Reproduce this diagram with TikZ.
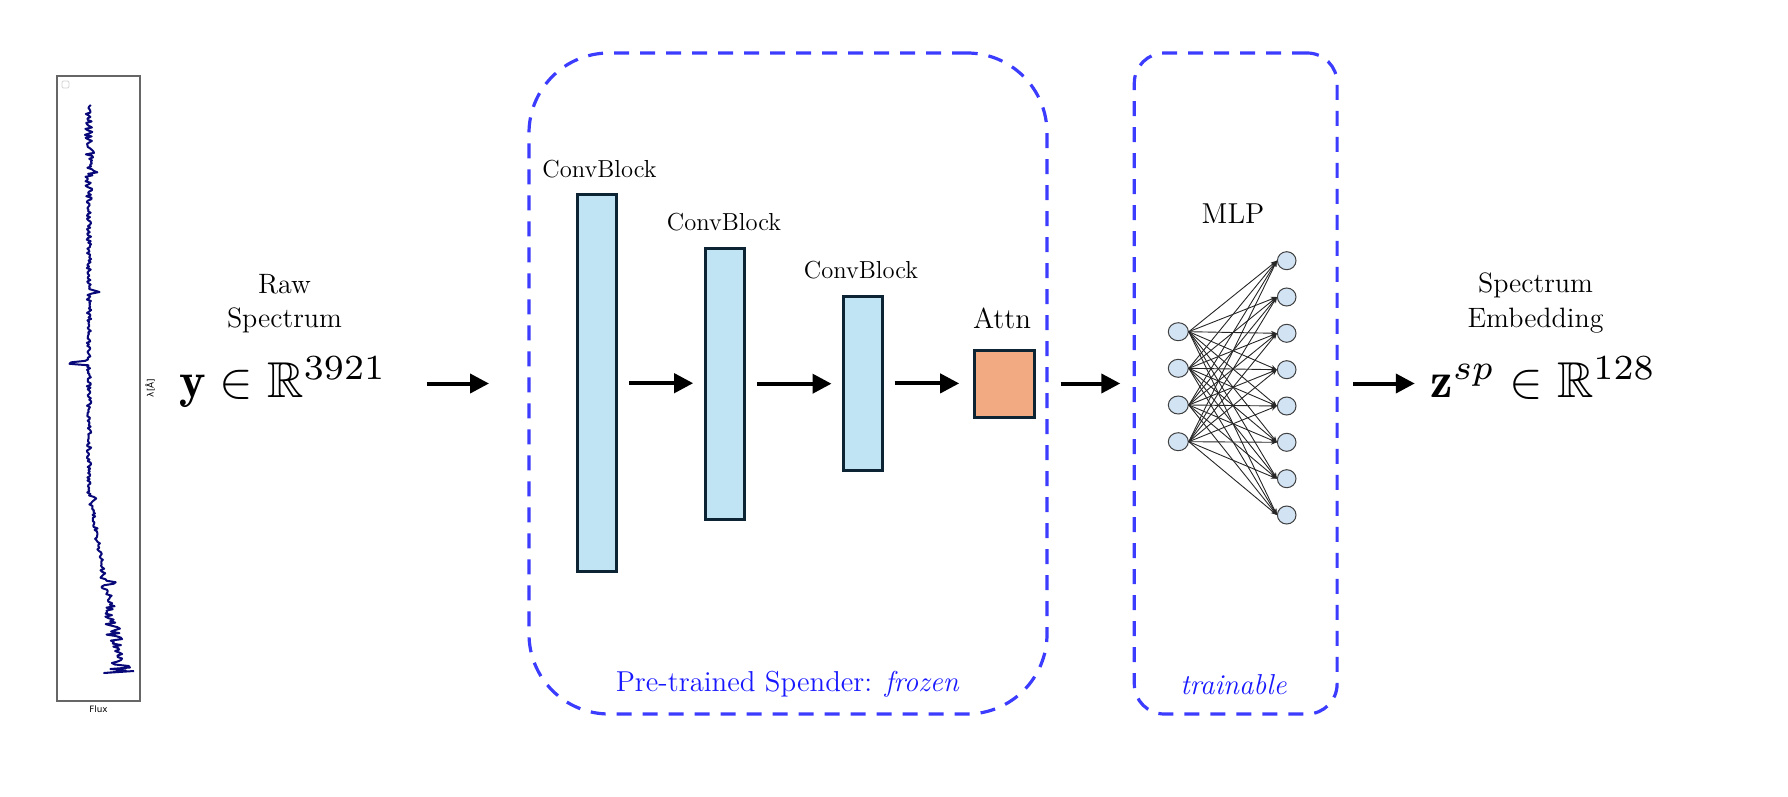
\documentclass[tikz,border=0pt]{standalone}
\usepackage{amsmath,amssymb}
\usepackage{graphicx}
\usepackage{fontspec}
\usetikzlibrary{arrows.meta,calc,shapes.geometric}
\newfontfamily\plotfont{DejaVu Sans}
\definecolor{cbfill}{RGB}{193,228,244}
\definecolor{cbdraw}{RGB}{12,36,52}
\definecolor{attnfill}{RGB}{241,170,130}
\definecolor{dashblue}{RGB}{60,60,255}
\definecolor{labblue}{RGB}{25,25,255}
\definecolor{specblue}{RGB}{8,8,120}
\definecolor{mlpfill}{RGB}{210,227,244}
\begin{document}
\begin{tikzpicture}[x=0.5pt,y=-0.5pt,
  cb/.style={draw=cbdraw, line width=1.5pt, fill=cbfill, inner sep=0pt, outer sep=0pt},
  attnbox/.style={cb, fill=attnfill},
  dashbox/.style={draw=dashblue, line width=1.6pt, dash pattern=on 7.5pt off 5.5pt, inner sep=0pt, outer sep=0pt},
  bigarr/.style={line width=2pt, -{Triangle[length=9.5pt,width=9.5pt]}},
  neuron/.style={ellipse, draw=black!75, line width=0.5pt, fill=mlpfill, inner sep=0pt, minimum height=9pt},
  mlpedge/.style={draw=black!85, line width=0.45pt, -{Stealth[length=3pt,width=2.4pt]}},
  txt/.style={inner sep=0pt, outer sep=0pt},
  cblabel/.style={txt, anchor=base, font=\fontsize{12.3}{14}\selectfont},
  biglabel/.style={txt, anchor=base, font=\fontsize{14.4}{17}\selectfont},
  mathlabel/.style={txt, anchor=base, font=\fontsize{10}{12}\selectfont},
  bluelabel/.style={txt, anchor=base, text=labblue, font=\fontsize{14.4}{17}\selectfont},
  plotlabel/.style={txt, font=\plotfont\fontsize{4.4}{5}\selectfont}
]
\useasboundingbox (0,0) rectangle (1788,797);

% ---- spectrum plot ----
\node[draw=black!60, line width=0.6pt, minimum width=41.5pt, minimum height=312.5pt, inner sep=0pt] (frame) at (98.5,388.5) {};
\draw[black!18, line width=0.4pt, rounded corners=0.6pt] (62,81) rectangle (69,88);
\pgfmathsetseed{4242}
\draw[specblue, line width=1pt, line join=round]
  plot[domain=105:672, samples=380, variable=\t]
  ({89 + 0.17*max(0,\t-490) + (2.2 + 3*max(0,1-abs(\t-150)/60) + 9*max(0,(\t-560)/112))*rand
    - 27*max(0,1-abs(\t-363)/2.5) + 10*max(0,1-abs(\t-172)/2.5) + 9*max(0,1-abs(\t-292)/2.5)
    + 9*max(0,1-abs(\t-498)/2.5) + 12*max(0,1-abs(\t-583)/2.5)}, {\t})
  -- (104,673) -- (134,671);
\node[plotlabel] (flux) at (98.5,709.5) {Flux};
\node[plotlabel, rotate=90] (lam) at (150,388) {λ[Å]};

% ---- input ----
\node[txt, align=center, font=\fontsize{14}{16.9}\selectfont] (raw) at (284.5,304) {Raw\\Spectrum};
\node[mathlabel] (yin) at (283,397.5) {\scalebox{2.52}{$\mathbf{y}\in\mathbb{R}^{3921}$}};

% ---- spender (frozen) ----
\node[dashbox, rounded corners=40pt, minimum width=259pt, minimum height=330.5pt] (spender) at (788,383.5) {};
\node[cb, minimum width=19.8pt, minimum height=188.7pt] (b1) at (597,383.2) {};
\node[cb, minimum width=19.8pt, minimum height=135.5pt] (b2) at (725,383.7) {};
\node[cb, minimum width=19.5pt, minimum height=87.2pt] (b3) at (863,383.4) {};
\node[attnbox, minimum width=30.2pt, minimum height=33.5pt] (attn) at (1004.4,384) {};
\node[cblabel] (l1) at (599.5,177) {ConvBlock};
\node[cblabel] (l2) at (724,230.7) {ConvBlock};
\node[cblabel] (l3) at (861,278) {ConvBlock};
\node[biglabel] (lattn) at (1002,328) {Attn};
\node[bluelabel] (frozen) at (787.5,691.7) {Pre-trained Spender: \textit{frozen}};

% ---- MLP (trainable) ----
\node[dashbox, rounded corners=15pt, minimum width=101.4pt, minimum height=330.5pt] (mlpbox) at (1235.7,383.5) {};
\node[biglabel] (lmlp) at (1233,223) {MLP};
\node[bluelabel] (train) at (1233.5,694) {\textit{trainable}};
\foreach \i/\y in {1/331.7,2/368.3,3/405,4/441.7}
  \node[neuron, minimum width=10pt] (n\i) at (1178.3,\y) {};
\foreach \j/\y in {1/260.7,2/297,3/333.3,4/369.7,5/406,6/442.3,7/478.7,8/515}
  \node[neuron, minimum width=9.3pt] (m\j) at (1286.7,\y) {};
\foreach \i in {1,...,4}
  \foreach \j in {1,...,8}
    \draw[mlpedge] (n\i.east) -- (m\j.west);

% ---- output ----
\node[txt, align=center, font=\fontsize{14}{17.5}\selectfont] (emb) at (1535.5,302.7) {Spectrum\\Embedding};
\node[mathlabel] (zout) at (1543.5,397.5) {\scalebox{2.52}{$\mathbf{z}^{sp}\in\mathbb{R}^{128}$}};

% ---- arrows ----
\draw[bigarr, shorten <=20pt, shorten >=20pt] (spender.west -| yin.east) -- (spender.west);
\draw[bigarr, shorten <=6pt, shorten >=6pt] (b1.east) -- (b1.east -| b2.west);
\draw[bigarr, shorten <=6pt, shorten >=6pt] (b2.east) -- (b2.east -| b3.west);
\draw[bigarr, shorten <=6pt, shorten >=7.5pt] (b3.east) -- (b3.east -| attn.west);
\draw[bigarr, shorten <=6.8pt, shorten >=7pt] (spender.east) -- (mlpbox.west);
\draw[bigarr, shorten <=8pt, shorten >=8pt] (mlpbox.east) -- (mlpbox.east -| zout.west);
\end{tikzpicture}
\end{document}
